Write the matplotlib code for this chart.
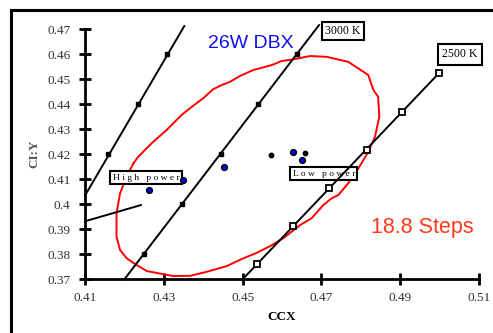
import matplotlib
matplotlib.use("Agg")
import matplotlib.pyplot as plt
from matplotlib.patches import Rectangle

# ---- data ----
iso_left_x = [0.4100, 0.4352]
iso_left_y = [0.4035, 0.4713]
iso_left_mx = [0.4158, 0.4234, 0.4307]
iso_left_my = [0.420, 0.440, 0.460]

iso_3000_x = [0.4200, 0.4694]
iso_3000_y = [0.3700, 0.4717]
iso_3000_mx = [0.4251, 0.4345, 0.4445, 0.4540, 0.4639]
iso_3000_my = [0.380, 0.400, 0.420, 0.440, 0.460]

iso_2500_x = [0.4500, 0.4998]
iso_2500_y = [0.3700, 0.4524]
iso_2500_mx = [0.4536, 0.4627, 0.4720, 0.4815, 0.4904, 0.4998]
iso_2500_my = [0.3762, 0.3913, 0.4066, 0.4217, 0.4370, 0.4524]

short_line_x = [0.4102, 0.4242]
short_line_y = [0.3933, 0.3997]

blue_x = [0.4262, 0.4348, 0.4454, 0.4627, 0.4650]
blue_y = [0.4057, 0.4097, 0.4148, 0.4210, 0.4177]

black_x = [0.4571, 0.4658]
black_y = [0.4197, 0.4206]

ellipse_x = [0.4223, 0.4235, 0.4269, 0.4307, 0.4345, 0.4371, 0.4400, 0.4425,
             0.4447, 0.4468, 0.4493, 0.4527, 0.4574, 0.4599, 0.4629, 0.4671,
             0.4713, 0.4768, 0.4819, 0.4832, 0.4844, 0.4847, 0.4836, 0.4819,
             0.4794, 0.4768, 0.4743, 0.4726, 0.4705, 0.4675, 0.4646, 0.4603,
             0.4570, 0.4536, 0.4502, 0.4460, 0.4409, 0.4367, 0.4324, 0.4257,
             0.4231, 0.4206, 0.4189, 0.4180, 0.4180, 0.4189, 0.4202, 0.4214,
             0.4223]
ellipse_y = [0.4164, 0.4190, 0.4244, 0.4297, 0.4357, 0.4390, 0.4424, 0.4460,
             0.4477, 0.4490, 0.4513, 0.4537, 0.4557, 0.4573, 0.4580, 0.4593,
             0.4590, 0.4570, 0.4517, 0.4457, 0.4430, 0.4350, 0.4270, 0.4210,
             0.4144, 0.4084, 0.4037, 0.4024, 0.3997, 0.3944, 0.3917, 0.3864,
             0.3833, 0.3806, 0.3784, 0.3753, 0.3730, 0.3714, 0.3713, 0.3733,
             0.3757, 0.3784, 0.3817, 0.3870, 0.3964, 0.4044, 0.4097, 0.4137,
             0.4164]

x_ticks = [0.41, 0.43, 0.45, 0.47, 0.49, 0.51]
x_ticklabels = ["0.41", "0.43", "0.45", "0.47", "0.49", "0.51"]
y_ticks = [0.37, 0.38, 0.39, 0.40, 0.41, 0.42, 0.43, 0.44, 0.45, 0.46, 0.47]
y_ticklabels = ["0.37", "0.38", "0.39", "0.4", "0.41", "0.42", "0.43",
                "0.44", "0.45", "0.46", "0.47"]

W, H = 493, 333
fig = plt.figure(figsize=(W / 100, H / 100), dpi=100)
ax = fig.add_axes([85 / W, (H - 279.3) / H, (479 - 85) / W, (279.3 - 29.3) / H])
ax.set_xlim(0.41, 0.51)
ax.set_ylim(0.37, 0.47)

# figure frame (clipped on right and bottom)
fig.patches.append(Rectangle((11 / W, -0.2), 1.5, (H - 10) / H + 0.2,
                             transform=fig.transFigure, fill=False,
                             edgecolor="black", linewidth=2.2))

serif = "Liberation Serif"

# iso-CCT lines
ax.plot(iso_left_x, iso_left_y, color="black", lw=1.4, clip_on=False, zorder=3)
ax.plot(iso_left_mx, iso_left_my, "s", color="black", ms=3.5, zorder=4)
ax.plot(iso_3000_x, iso_3000_y, color="black", lw=1.4, clip_on=False, zorder=3)
ax.plot(iso_3000_mx, iso_3000_my, "s", color="black", ms=3.5, zorder=4)
ax.plot(iso_2500_x, iso_2500_y, color="black", lw=1.4, clip_on=False, zorder=6)
ax.plot(iso_2500_mx, iso_2500_my, "s", mfc="white", mec="black", mew=1.3,
        ms=5, zorder=7)
ax.plot(short_line_x, short_line_y, color="black", lw=1.4, zorder=3)

# MacAdam-like contour
ax.plot(ellipse_x, ellipse_y, color="#ff0000", lw=1.4, zorder=2)

# measured points
ax.plot(blue_x, blue_y, "o", mfc="#0000ee", mec="black", mew=1.0, ms=4.2, zorder=8)
ax.plot(black_x, black_y, "o", color="black", ms=3.2, zorder=8)

# labels
box = dict(boxstyle="square,pad=0.25", fc="white", ec="black", lw=1.5)
ax.text(0.4755, 0.4694, "3000 K", fontsize=8.5, family=serif, ha="center",
        va="center", bbox=box, zorder=5, clip_on=False)
ax.text(0.5052, 0.4600, "2500 K", fontsize=8.5, family=serif, ha="center",
        va="center", bbox=dict(boxstyle="square,pad=0.4", fc="white",
                               ec="black", lw=1.5), zorder=5, clip_on=False)
ax.text(0.4706, 0.4122, "L o w   p o w e r", fontsize=6.8, family=serif,
        ha="center", va="center", bbox=box, zorder=5)
ax.text(0.4255, 0.4107, "H i g h   p o w e r", fontsize=6.8, family=serif,
        ha="center", va="center", bbox=box, zorder=5)

ax.text(0.4522, 0.4644, "26W DBX", fontsize=14, color="#1010ee",
        family="Liberation Sans", ha="center", va="center", zorder=9)
ax.text(0.4955, 0.3908, "18.8 Steps", fontsize=15.5, color="#ff3b1a",
        family="Liberation Sans", ha="center", va="center", zorder=9)

# axes styling
for s in ["top", "right"]:
    ax.spines[s].set_visible(False)
for s in ["left", "bottom"]:
    ax.spines[s].set_linewidth(2)
ax.set_xticks(x_ticks)
ax.set_xticklabels(x_ticklabels, family=serif, fontsize=9.5, color="#333333")
ax.set_yticks(y_ticks)
ax.set_yticklabels(y_ticklabels, family=serif, fontsize=9.5, color="#333333")
ax.tick_params(direction="inout", length=9, width=2)
ax.tick_params(axis="y", pad=6)
ax.tick_params(axis="x", pad=5)

ax.set_xlabel("CCX", family=serif, fontsize=9.5, fontweight="bold", labelpad=5)
ax.set_ylabel("CI:Y", family=serif, fontsize=9.5, fontweight="bold",
              color="#555555", labelpad=5)

fig.savefig("out.png", dpi=100)
